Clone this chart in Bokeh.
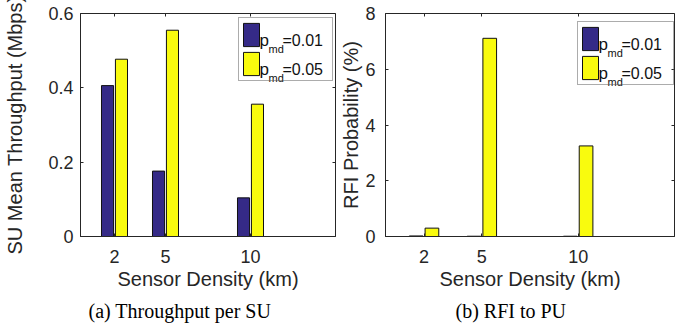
from bokeh.plotting import figure
from bokeh.models import (ColumnDataSource, Range1d, FixedTicker, LinearAxis, Legend, LegendItem,
                          Title, CustomJSTickFormatter)
from bokeh.core.properties import value, field
from bokeh.transform import dodge
from bokeh.layouts import row
from bokeh.embed import file_html
from bokeh.resources import INLINE

# ---------------- data ----------------
density = [2, 5, 10]
tick_labels_y_left = [0, 0.2, 0.4, 0.6]
tick_labels_y_right = [0, 2, 4, 6, 8]
series_names = ["0.01", "0.05"]
throughput_pmd001 = [0.406, 0.176, 0.104]
throughput_pmd005 = [0.477, 0.555, 0.356]
rfi_pmd001 = [0.02, 0.01, 0.01]
rfi_pmd005 = [0.30, 7.11, 3.25]

BLUE = "#352A87"
YELLOW = "#F9FB0E"
AX = "#262626"
FONT = "Liberation Sans"


def make_panel(blue_vals, yellow_vals, ymax, yticks, ylabel, caption, cap_offset,
               fw, fh, bl, bt, br, bb, leg_left, leg_top, leg_w, ylabel_standoff, ytick_standoff):
    p = figure(frame_width=fw, frame_height=fh, min_border_left=bl, min_border_top=bt,
               min_border_right=br, min_border_bottom=bb,
               x_range=Range1d(0, 15), y_range=Range1d(0, ymax),
               output_backend="svg", toolbar_location=None,
               background_fill_color="white", border_fill_color="white")
    p.xgrid.visible = False
    p.ygrid.visible = False
    p.outline_line_color = AX
    p.outline_line_width = 1

    src = ColumnDataSource(dict(x=density, a=blue_vals, b=yellow_vals))
    r1 = p.vbar(x=dodge("x", -0.41, range=p.x_range), top="a", width=0.71, source=src,
                fill_color=BLUE, line_color="#111111", line_width=1)
    r2 = p.vbar(x=dodge("x", 0.41, range=p.x_range), top="b", width=0.71, source=src,
                fill_color=YELLOW, line_color="#111111", line_width=1)

    for ax in (p.xaxis[0], p.yaxis[0]):
        ax.axis_line_color = AX
        ax.major_tick_line_color = AX
        ax.major_tick_in = 3
        ax.major_tick_out = 0
        ax.minor_tick_in = 0
        ax.minor_tick_out = 0
        ax.major_label_text_font = FONT
        ax.major_label_text_font_size = "18px"
        ax.major_label_text_color = AX
        ax.axis_label_text_font = FONT
        ax.axis_label_text_font_size = "20px"
        ax.axis_label_text_font_style = "normal"
        ax.axis_label_text_color = AX
    p.xaxis[0].ticker = FixedTicker(ticks=density)
    p.yaxis[0].ticker = FixedTicker(ticks=yticks)
    p.xaxis[0].axis_label = "Sensor Density (km)"
    p.yaxis[0].axis_label = ylabel
    p.xaxis[0].major_label_standoff = 13
    p.xaxis[0].axis_label_standoff = 2
    p.yaxis[0].major_label_standoff = ytick_standoff
    p.yaxis[0].axis_label_standoff = ylabel_standoff

    empty = CustomJSTickFormatter(code="return ''")
    top_ax = LinearAxis(ticker=FixedTicker(ticks=density), formatter=empty,
                        axis_line_color=None, major_tick_line_color=AX,
                        major_tick_in=3, major_tick_out=0, minor_tick_in=0, minor_tick_out=0,
                        major_label_standoff=0, major_label_text_font_size="0px")
    right_ax = LinearAxis(ticker=FixedTicker(ticks=yticks), formatter=empty,
                          axis_line_color=None, major_tick_line_color=AX,
                          major_tick_in=3, major_tick_out=0, minor_tick_in=0, minor_tick_out=0,
                          major_label_standoff=0, major_label_text_font_size="0px")
    p.add_layout(top_ax, "above")
    p.add_layout(right_ax, "right")

    # legend entry texts  p_md=value  (drawn as text glyphs, legend box is transparent)
    def dx(px):
        return px * 15.0 / fw

    def dy(px_from_top):
        return (fh - px_from_top) * ymax / fh

    tx, ty, tt, ts = [], [], [], []
    for i, name in enumerate(series_names):
        base = leg_top + 21 + 29 * i
        tx += [dx(leg_left + 21), dx(leg_left + 30), dx(leg_left + 44)]
        ty += [dy(base), dy(base + 8), dy(base)]
        tt += ["p", "md", "=" + name]
        ts += ["17px", "11px", "16px"]
    tsrc = ColumnDataSource(dict(x=tx, y=ty, t=tt, s=ts))
    p.text(x="x", y="y", text="t", source=tsrc, text_font=value(FONT),
           text_font_size=field("s"), text_color="#111111",
           text_baseline="alphabetic", text_align="left")

    # legend (box geometry in px); legend swatches are inset 10% inside the glyph area
    pad, gw, gh, sp = 2, 20, 29, 0
    box_h = 2 * pad + 2 * gh + sp
    leg = Legend(items=[LegendItem(label=" ", renderers=[r1]), LegendItem(label=" ", renderers=[r2])],
                 location=(leg_left, fh - leg_top - box_h), orientation="vertical",
                 padding=pad, spacing=sp, margin=0, glyph_width=gw, glyph_height=gh,
                 label_height=gh, label_width=leg_w - 2 * pad - gw, label_standoff=0,
                 border_line_color="#5a5a5a", border_line_width=1,
                 background_fill_color="white", background_fill_alpha=0.0,
                 label_text_font_size="16px")
    p.add_layout(leg)

    cap = Title(text=caption, align="left", offset=cap_offset, text_font="Liberation Serif",
                text_font_size="20px", text_font_style="normal", text_color="black", standoff=11)
    p.add_layout(cap, "below")
    return p


p1 = make_panel(throughput_pmd001, throughput_pmd005, 0.6, tick_labels_y_left,
                "SU Mean Throughput (Mbps)", "(a) Throughput per SU", 8,
                fw=255, fh=223, bl=80, bt=13, br=2, bb=92,
                leg_left=158, leg_top=6, leg_w=93, ylabel_standoff=19, ytick_standoff=7)
p2 = make_panel(rfi_pmd001, rfi_pmd005, 8, tick_labels_y_right,
                "RFI Probability (%)", "(b) RFI to PU", 70,
                fw=289, fh=223, bl=48, bt=13, br=1, bb=92,
                leg_left=192, leg_top=10, leg_w=95, ylabel_standoff=0, ytick_standoff=10)

layout = row(p1, p2)
open("out.html", "w").write(file_html(layout, INLINE))
